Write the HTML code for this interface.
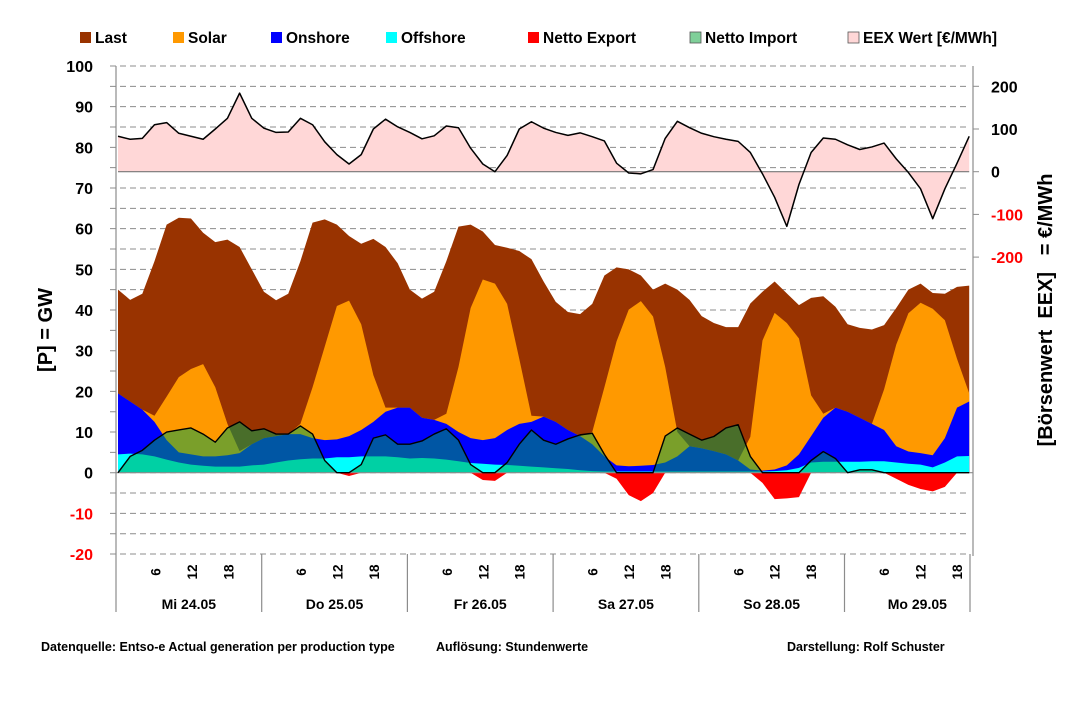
<!DOCTYPE html>
<html><head><meta charset="utf-8">
<style>
html,body{margin:0;padding:0;background:#fff;}
svg{display:block;font-family:"Liberation Sans",sans-serif;font-weight:bold;}
</style></head>
<body>
<svg id="chart" width="1072" height="704" viewBox="0 0 1072 704" xmlns="http://www.w3.org/2000/svg">
<g id="grid"></g>
<g id="series"></g>
<g id="axes"></g>
<g id="legend"></g>
<text x="0" y="0" transform="translate(52,330) rotate(-90)" text-anchor="middle" font-size="20">[P] = GW</text>
<text x="0" y="0" transform="translate(1052,310) rotate(-90)" text-anchor="middle" font-size="20" xml:space="preserve">[Börsenwert  EEX]   = €/MWh</text>
<text x="41" y="651" font-size="12.5">Datenquelle: Entso-e  Actual generation per production type</text>
<text x="436" y="651" font-size="12.5">Auflösung:  Stundenwerte</text>
<text x="787" y="651" font-size="12.5">Darstellung:  Rolf Schuster</text>
</svg>
<script>
// data sampled every 2 hours, hour 0..140
const hours = Array.from({length:71},(_,i)=>i*2);
const load = [45,42.5,44,52,61,62.7,62.5,59,56.7,57.3,55.5,50,44.5,42.4,44,52,61.5,62.3,61,58.2,56.3,57.5,55.5,51.5,45,42.8,44.5,52,60.5,61,59.3,56,55.3,54.5,52.5,47,42,39.5,39,41.5,48.5,50.5,50,48.5,45,46.5,45,42.5,38.5,36.8,35.8,35.8,41.6,44.5,47,44.1,41.2,43,43.4,40.8,36.5,35.6,35.2,36.3,40.5,45,46.5,44.2,44,45.7,46];
const offshore = [4.5,4.7,4.5,4,3.2,2.5,2,1.7,1.5,1.5,1.5,1.8,2,2.5,3,3.3,3.5,3.5,3.8,3.8,4,4,4,3.8,3.5,3.6,3.5,3.2,2.8,2.4,2.2,2,1.9,1.7,1.5,1.3,1.1,0.9,0.6,0.4,0.3,0.3,0.3,0.3,0.3,0.3,0.3,0.3,0.3,0.3,0.3,0.3,0.3,0.3,0.4,0.6,1.2,2.5,2.7,2.7,2.7,2.7,2.8,2.8,2.5,2.2,2,1.3,2.5,4,4.1];
const windTotal = [19.5,17.5,15.5,12.5,8,5,4.5,4,4,4.3,4.8,7,8.5,9,9.5,9.5,8.5,8,8.2,9,10.5,12.5,15,16,16,13.5,13,12,10,8.5,8,8.5,10.5,12,12.5,13.8,12.5,10.5,9,7,4,1.8,1.6,1.7,1.9,2.5,4,6.5,6,5.3,4.5,3,0.8,0.5,0.8,1.8,4.5,9,13.5,16,15,13.5,12,10.5,6.5,5.2,4.8,4.3,8.5,16,17.5];
const solar = [0,0,0,1.5,10.7,18.5,21,22.7,17,7.7,0.5,0,0,0,0,2.5,12.5,23,32.8,33.3,26,11.5,1,0,0,0,0,2.5,16,32,39.5,38,31,16,1.5,0,0,0,0,3,17,30.5,38.5,40.5,36.5,23.5,6,0,0,0,0,0,8,32,38.5,35,28.5,10,1,0,0,0,0,10,25,34,37,36,29,12,2];
const netImport = [0,4,5.5,8,10,10.5,11,9.5,7.5,11,12.5,10.3,10.8,9.5,9.5,11.5,9.5,3,0,0,2,8.5,9.3,7,7,7.8,9.5,10.8,8,2,0,0,2.5,7,10.5,8,7,8.3,9.3,9.7,4.5,0,0,0,0,9,11,9.5,8,8.9,11,11.8,4,0,0,0,0,3,5.2,3.5,0,0.7,0.7,0,0,0,0,0,0,0,0];
const netExport = [0,0,0,0,0,0,0,0,0,0,0,0,0,0,0,0,0,0,0,-0.8,0,0,0,0,0,0,0,0,0,0,-1.8,-2,0,0,0,0,0,0,0,0,0,-1.5,-5.5,-7,-5,0,0,0,0,0,0,0,0,-2.5,-6.5,-6.3,-6,0,0,0,0,0,0,0,-1.5,-3,-4,-4.6,-3.5,0,0];
const price = [83,76,78,110,115,90,83,76,100,125,184,125,102,92,93,125,110,70,40,18,40,100,123,105,92,77,84,107,103,55,18,0,38,100,117,102,92,85,91,82,72,20,-3,-5,5,78,118,103,90,82,76,71,45,-5,-60,-128,-30,45,79,76,63,52,58,67,30,-2,-40,-110,-40,20,83];
const leftTicks = [100,90,80,70,60,50,40,30,20,10,0,-10,-20];
const rightTicks = [200,100,0,-100,-200];
const dayLabels = ["Mi 24.05","Do 25.05","Fr 26.05","Sa 27.05","So 28.05","Mo 29.05"];
const hourTicks = [6,12,18];
const legendLabels = ["Last","Solar","Onshore","Offshore","Netto Export","Netto Import","EEX Wert [€/MWh]"];

const NS="http://www.w3.org/2000/svg";
const X0=116, DAYW=145.7, PH=DAYW/24;
const xS = h => 118 + h*6.08;
const yS = v => 472.7 - v*4.067;
const pS = v => 171.7 - v*0.427;
function mk(tag, parent, attrs){const e=document.createElementNS(NS,tag);for(const k in attrs)e.setAttribute(k,attrs[k]);parent.appendChild(e);return e;}
const grid=document.getElementById('grid'), ser=document.getElementById('series'), axes=document.getElementById('axes'), leg=document.getElementById('legend');

for(let v=-20; v<=100; v+=5){
  const l=mk('line',grid,{x1:110,x2:970,y1:yS(v),y2:yS(v),stroke:'#8c8c8c','stroke-width':1,'stroke-dasharray':'6,4'});
  
  
}
function areaPath(top, bottom, scale){
  let d='M'+xS(hours[0])+','+scale(bottom(0));
  hours.forEach((h,i)=>{d+=' L'+xS(h)+','+scale(top(i));});
  for(let i=hours.length-1;i>=0;i--) d+=' L'+xS(hours[i])+','+scale(bottom(i));
  return d+' Z';
}
function linePath(vals, scale){return hours.map((h,i)=>(i?'L':'M')+xS(h)+','+scale(vals[i])).join(' ');}

const pa=mk('path',ser,{d:areaPath(i=>price[i],()=>0,pS),fill:'#ffd7d7'});


const pz=mk('line',ser,{x1:xS(0),x2:xS(140),y1:pS(0),y2:pS(0),stroke:'#777','stroke-width':1.2});


const pl=mk('path',ser,{d:linePath(price,pS),fill:'none',stroke:'#000','stroke-width':1.5,'stroke-linejoin':'round'});



const a1=mk('path',ser,{d:areaPath(i=>load[i],()=>0,yS),fill:'#993300'});


const a2=mk('path',ser,{d:areaPath(i=>windTotal[i]+solar[i],()=>0,yS),fill:'#ff9900'});


const a3=mk('path',ser,{d:areaPath(i=>windTotal[i],()=>0,yS),fill:'#0000ff'});


const a4=mk('path',ser,{d:areaPath(i=>offshore[i],()=>0,yS),fill:'#00ffff'});


const a5=mk('path',ser,{d:areaPath(i=>netImport[i],()=>0,yS),fill:'rgb(0,165,80)','fill-opacity':0.52});


const a6=mk('path',ser,{d:areaPath(i=>netExport[i],()=>0,yS),fill:'#ff0000'});


const zl=mk('line',ser,{x1:116,x2:973,y1:yS(0),y2:yS(0),stroke:'#8c8c8c','stroke-width':1.2});


const il=mk('path',ser,{d:linePath(netImport,yS),fill:'none',stroke:'#000','stroke-width':1.4,'stroke-linejoin':'round'});



const la=mk('line',axes,{x1:X0,x2:X0,y1:66,y2:612,stroke:'#8c8c8c','stroke-width':1.2});


const ra=mk('line',axes,{x1:973,x2:973,y1:66,y2:556,stroke:'#8c8c8c','stroke-width':1.2});


leftTicks.forEach(v=>{
  const t=mk('text',axes,{x:93,y:yS(v)+6,'text-anchor':'end','font-size':16,fill:v<0?'#ff0000':'#000'});
  t.textContent=v;
  
  
});
rightTicks.forEach(v=>{
  const t=mk('text',axes,{x:991,y:pS(v)+6,'font-size':16,fill:v<0?'#ff0000':'#000'});
  t.textContent=v;
  
  
  const tk=mk('line',axes,{x1:973,x2:979,y1:pS(v),y2:pS(v),stroke:'#8c8c8c'});
  
  
});
for(let d=1; d<=6; d++){
  const x = d<6 ? X0+d*DAYW : 970;
  const s=mk('line',axes,{x1:x,x2:x,y1:554,y2:612,stroke:'#8c8c8c','stroke-width':1.2});
  
  
}
dayLabels.forEach((lab,d)=>{
  const t=mk('text',axes,{x:X0+d*DAYW+DAYW/2,y:609,'text-anchor':'middle','font-size':14});
  t.textContent=lab;
  
  
  hourTicks.forEach(h=>{
    const cx=X0+d*DAYW+(h+0.5)*PH, cy=572;
    const tt=mk('text',axes,{x:0,y:0,transform:`translate(${cx+5},${cy}) rotate(-90)`,'text-anchor':'middle','font-size':13.5});
    tt.textContent=h;
    
    
  });
});

const legX=[80,173,271,386,528,690,848];
const legC=['#993300','#ff9900','#0000ff','#00ffff','#ff0000','#7fcf99','#ffd7d7'];
legendLabels.forEach((lab,i)=>{
  const g=mk('g',leg,{});
  
  
  const r=mk('rect',g,{x:legX[i],y:32,width:11,height:11,fill:legC[i],stroke:i>=5?'#555':'none','stroke-width':0.8});
  
  
  const t=mk('text',g,{x:legX[i]+15,y:43,'font-size':15.5});
  t.textContent=lab;
  
  
});
</script>
</body></html>
